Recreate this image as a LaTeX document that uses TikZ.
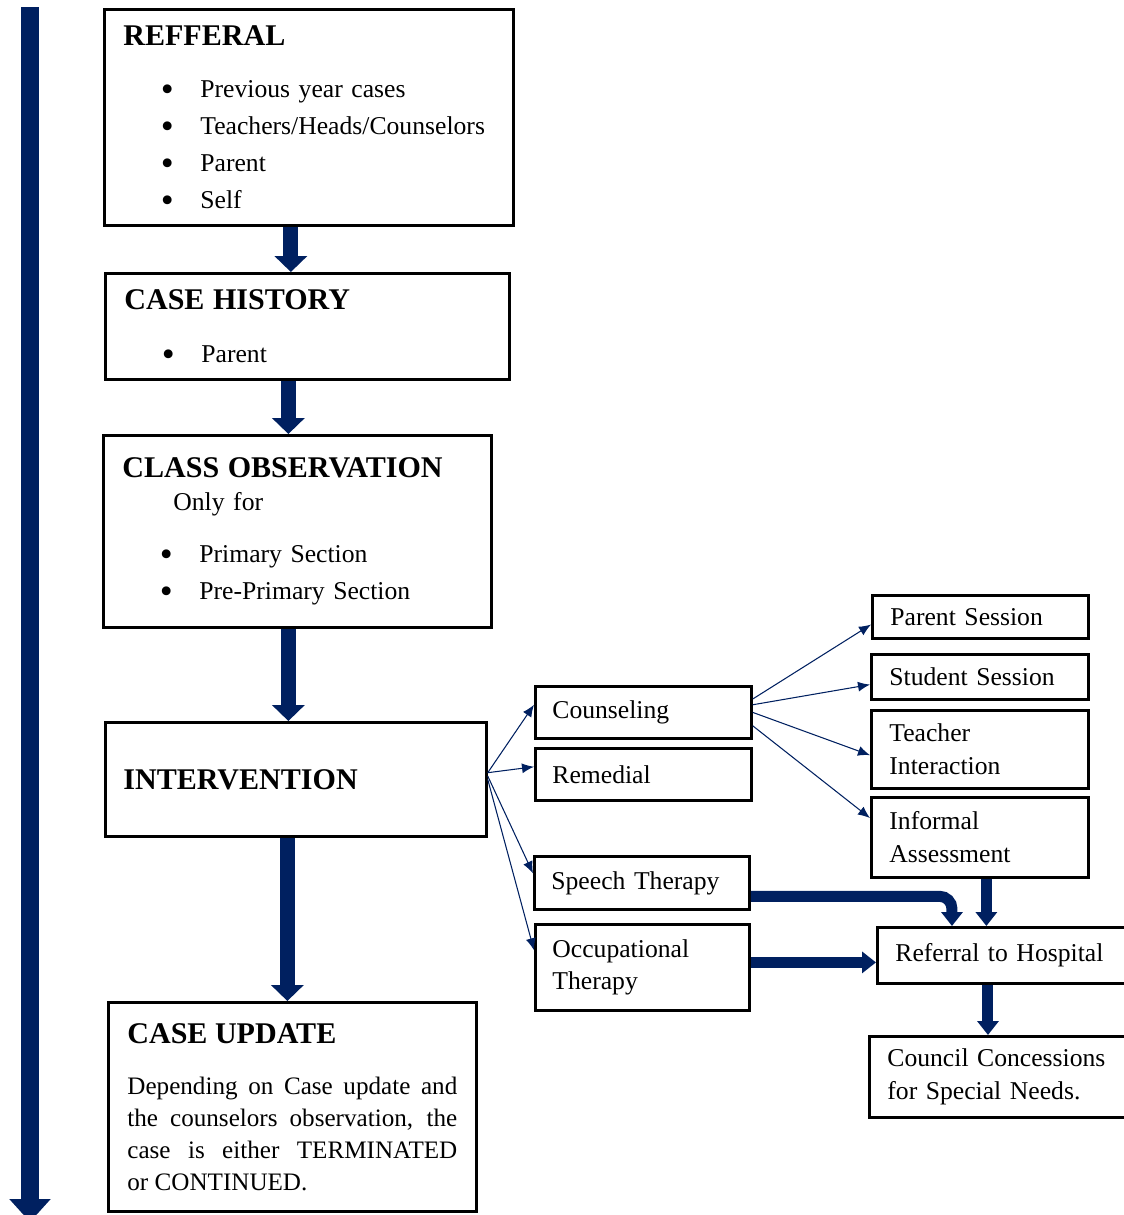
\documentclass[tikz,border=0pt]{standalone}
\usepackage{fontspec}
\setmainfont{Liberation Serif}
\usetikzlibrary{arrows.meta}
\definecolor{navy}{RGB}{0,32,96}
\setlength{\parindent}{0pt}
\newcommand{\bodyfont}{\fontsize{14.6pt}{21pt}\selectfont}
\newcommand{\rfont}{\fontsize{14.6pt}{18.6pt}\selectfont}
\newcommand{\headfont}{\fontsize{17.1pt}{20pt}\selectfont\bfseries}
\newcommand{\itm}{\hspace*{0.79cm}\makebox[0.18cm][c]{\raisebox{-0.08cm}[0pt][0pt]{\fontsize{21pt}{21pt}\selectfont\textbullet}}\hspace*{0.57cm}}
\tikzset{
  box/.style={draw, line width=1.6pt, anchor=north west, inner sep=0pt, align=left},
  lbox/.style={box, font=\bodyfont},
  rbox/.style={box, font=\rfont},
  bigarr/.style={navy, line width=0.3cm, -{Triangle[width=0.64cm,length=0.32cm]}},
  midarr/.style={navy, line width=0.22cm, -{Triangle[width=0.42cm,length=0.28cm]}},
  thinarr/.style={navy, line width=0.6pt, -{Latex[width=0.2cm,length=0.24cm]}},
}
\begin{document}
\begin{tikzpicture}[x=0.02cm,y=-0.02cm]
\useasboundingbox (0,0) rectangle (1124,1215);
\coordinate (lt) at (30,7);
\coordinate (lb) at (30,1222);
\draw[navy, line width=0.38cm, -{Triangle[width=0.8cm,length=0.46cm]}] (lt) -- (lb);

\node[lbox, minimum width=8.18cm, minimum height=4.32cm, text width=7.42cm] (ref) at (103,8)
  {{\headfont REFFERAL}\\[8.6pt]
   \itm Previous year cases\\
   \itm Teachers/Heads/Counselors\\
   \itm Parent\\
   \itm Self};
\node[lbox, minimum width=8.08cm, minimum height=2.12cm, text width=7.32cm] (hist) at (104,272)
  {{\headfont CASE HISTORY}\\[9.2pt]
   \itm Parent};
\node[lbox, minimum width=7.76cm, minimum height=3.84cm, text width=7.0cm] (obs) at (102,434)
  {{\headfont CLASS OBSERVATION}\\[-2.2pt]
   \hspace*{1.02cm}Only for\\[8.6pt]
   \itm Primary Section\\
   \itm Pre-Primary Section};
\node[lbox, minimum width=7.62cm, minimum height=2.28cm, text width=6.9cm] (interv) at (104,721)
  {{\headfont INTERVENTION}};
\node[box, align=justify, font=\fontsize{14.3pt}{18.2pt}\selectfont, minimum width=7.36cm, minimum height=4.18cm, text width=6.6cm] (upd) at (107,1001)
  {{\headfont CASE UPDATE}\\[10.8pt]
   Depending on Case update and\linebreak
   the counselors observation, the\linebreak
   case is either TERMINATED\linebreak
   or CONTINUED.};

\node[rbox, minimum width=4.32cm, minimum height=1.04cm, text width=3.64cm] (couns) at (534,685) {Counseling};
\node[rbox, minimum width=4.32cm, minimum height=1.04cm, text width=3.64cm] (remed) at (534,747) {Remedial};
\node[rbox, minimum width=4.30cm, minimum height=1.06cm, text width=3.62cm] (speech) at (533,855) {Speech Therapy};
\node[rbox, minimum width=4.28cm, minimum height=1.72cm, text width=3.60cm] (occup) at (534,923) {Occupational\\Therapy};

\node[rbox, minimum width=4.32cm, minimum height=0.86cm, text width=3.60cm] (psess) at (871,594) {Parent Session};
\node[rbox, minimum width=4.34cm, minimum height=0.90cm, text width=3.62cm] (ssess) at (870,653) {Student Session};
\node[rbox, minimum width=4.34cm, minimum height=1.56cm, text width=3.62cm] (teach) at (870,709) {Teacher\\Interaction};
\node[rbox, minimum width=4.34cm, minimum height=1.60cm, text width=3.62cm] (inform) at (870,796) {Informal\\Assessment};
\node[rbox, minimum width=5.2cm, minimum height=1.12cm, text width=4.48cm] (hosp) at (876,926) {Referral to Hospital};
\node[rbox, minimum width=5.2cm, minimum height=1.62cm, text width=4.48cm] (counc) at (868,1035) {Council Concessions\\for Special Needs.};

\draw[bigarr] ([xshift=-0.36cm]ref.south) -- ([xshift=-0.36cm]ref.south |- hist.north);
\draw[bigarr] ([xshift=-0.38cm]hist.south) -- ([xshift=-0.38cm]hist.south |- obs.north);
\draw[bigarr] ([xshift=-0.18cm]obs.south) -- ([xshift=-0.18cm]obs.south |- interv.north);
\draw[bigarr] ([xshift=-0.17cm]interv.south) -- ([xshift=-0.17cm]interv.south |- upd.north);

\draw[thinarr] (interv.2) -- (couns.176);
\draw[thinarr] (interv.2) -- (remed.176);
\draw[thinarr] (interv.1) -- (speech.175);
\draw[thinarr] (interv.0) -- (occup.171);
\draw[thinarr] (couns.7) -- (psess.184);
\draw[thinarr] (couns.4) -- (ssess.184);
\draw[thinarr] (couns.0) -- (teach.183);
\draw[thinarr] (couns.-7) -- (inform.170);

\draw[midarr, rounded corners=0.25cm] (speech.-7) -| ([xshift=1.52cm]hosp.north west);
\draw[midarr] ([xshift=0.13cm]inform.south) -- ([xshift=0.13cm]inform.south |- hosp.north);
\coordinate (oc) at ([yshift=0.1cm]occup.east);
\draw[midarr] (oc) -- (oc -| hosp.west);
\draw[midarr] ([xshift=2.24cm]hosp.south west) -- ([xshift=2.24cm]hosp.south west |- counc.north);
\end{tikzpicture}
\end{document}
